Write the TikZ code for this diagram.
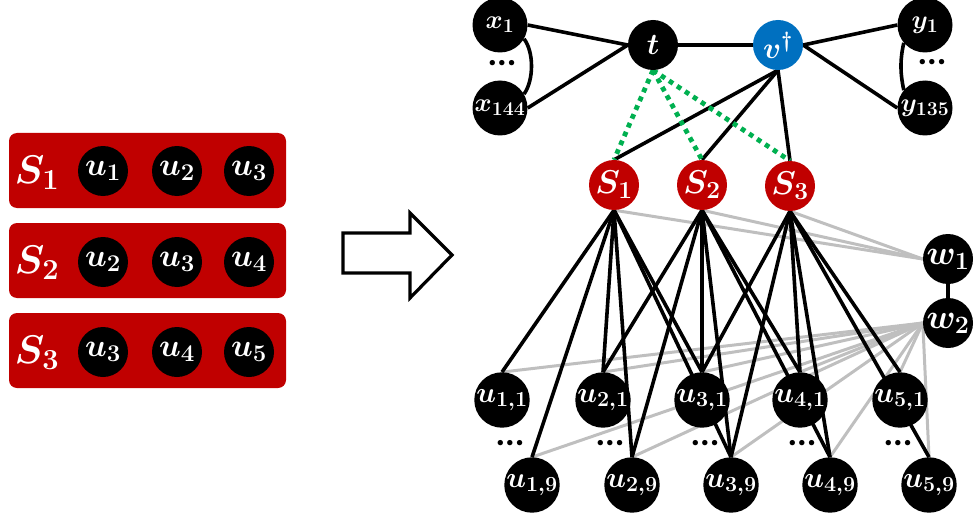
\RequirePackage{fix-cm}
\documentclass[tikz,border=0pt]{standalone}
\usepackage{fontspec}
\newfontfamily\dotfont{Carlito}
\usetikzlibrary{backgrounds}
\DeclareMathSizes{26}{26}{19.5}{14}
\DeclareMathSizes{29}{29}{21.5}{15}
\DeclareMathSizes{30}{30}{22}{16}
\DeclareMathSizes{32}{32}{24}{17}
\DeclareMathSizes{33}{33}{24.5}{17}
\DeclareMathSizes{34}{34}{25}{18}
\DeclareMathSizes{40}{40}{29}{21}
\definecolor{myred}{HTML}{C00000}
\definecolor{myblue}{HTML}{0070C0}
\definecolor{mygreen}{HTML}{00B050}
\definecolor{mygray}{HTML}{BFBFBF}
\begin{document}
\begin{tikzpicture}[x=1pt,y=-1pt,
  vtx/.style={circle, fill=black, text=white, minimum size=50pt, inner sep=0pt},
  bigvtx/.style={vtx, minimum size=55pt},
  lbl/.style={font=\fontsize{#1}{#1}\selectfont\boldmath},
  blk/.style={line width=3.6pt, black},
  gry/.style={line width=3pt, mygray},
  grn/.style={line width=4.8pt, mygreen, dash pattern=on 4.8pt off 4.8pt},
  setbox/.style={rounded corners=8pt, fill=myred, minimum width=277pt, minimum height=75pt, inner sep=0pt},
  dotlbl/.style={font=\dotfont\bfseries\fontsize{36}{36}\selectfont, inner sep=0pt}
]
\useasboundingbox (0,0) rectangle (974,516);

% ---------- left panel ----------
\node[setbox] (B1) at (147.5,170.5) {};
\node[setbox] (B2) at (147.5,260.5) {};
\node[setbox] (B3) at (147.5,350.5) {};
\node[text=white, lbl=40, inner sep=0pt] (LS1) at (37,173) {$S_1$};
\node[text=white, lbl=40, inner sep=0pt] (LS2) at (37,263) {$S_2$};
\node[text=white, lbl=40, inner sep=0pt] (LS3) at (37,353) {$S_3$};
\node[vtx, lbl=32] (L11) at (103,171) {$u_1$};
\node[vtx, lbl=32] (L12) at (177,171) {$u_2$};
\node[vtx, lbl=32] (L13) at (249,171) {$u_3$};
\node[vtx, lbl=32] (L21) at (103,262) {$u_2$};
\node[vtx, lbl=32] (L22) at (177,262) {$u_3$};
\node[vtx, lbl=32] (L23) at (249,262) {$u_4$};
\node[vtx, lbl=32] (L31) at (103,352) {$u_3$};
\node[vtx, lbl=32] (L32) at (177,352) {$u_4$};
\node[vtx, lbl=32] (L33) at (249,352) {$u_5$};

% ---------- hollow arrow ----------
\draw[line width=3.2pt, fill=white, line join=miter]
  (343,233) -- (410,233) -- (410,213) -- (452,255) -- (410,298) -- (410,273) -- (343,273) -- cycle;

% ---------- top nodes ----------
\node[bigvtx, lbl=26] (x1) at (500,25) {$x_1$};
\node[bigvtx, lbl=26] (x144) at (500,108) {$x_{144}$};
\node[vtx, lbl=30] (t) at (653,45) {$t$};
\node[vtx, lbl=30, fill=myblue] (v) at (778,45) {$v^{\dagger}$};
\node[bigvtx, lbl=26] (y1) at (925,25) {$y_1$};
\node[bigvtx, lbl=26] (y135) at (925,108) {$y_{135}$};
\node[dotlbl] (dl) at (502,63) {...};
\node[dotlbl] (dr) at (932,62) {...};

% ---------- set nodes ----------
\node[vtx, lbl=33, fill=myred] (S1) at (614,185) {$S_1$};
\node[vtx, lbl=33, fill=myred] (S2) at (702,185) {$S_2$};
\node[vtx, lbl=33, fill=myred] (S3) at (790,186) {$S_3$};

% ---------- w nodes ----------
\node[vtx, lbl=34] (w1) at (948,259) {$w_1$};
\node[vtx, lbl=34] (w2) at (948,323) {$w_2$};

% ---------- element nodes ----------
\node[vtx, lbl=29] (u11) at (502,400) {$u_{1,1}$};
\node[vtx, lbl=29] (u21) at (603,400) {$u_{2,1}$};
\node[vtx, lbl=29] (u31) at (702,400) {$u_{3,1}$};
\node[vtx, lbl=29] (u41) at (800,400) {$u_{4,1}$};
\node[vtx, lbl=29] (u51) at (900,400) {$u_{5,1}$};
\node[vtx, lbl=29] (u19) at (532,485) {$u_{1,9}$};
\node[vtx, lbl=29] (u29) at (632,485) {$u_{2,9}$};
\node[vtx, lbl=29] (u39) at (731,485) {$u_{3,9}$};
\node[vtx, lbl=29] (u49) at (830,485) {$u_{4,9}$};
\node[vtx, lbl=29] (u59) at (929,485) {$u_{5,9}$};
\node[dotlbl] (d1) at (510,443) {...};
\node[dotlbl] (d2) at (610,443) {...};
\node[dotlbl] (d3) at (705,443) {...};
\node[dotlbl] (d4) at (802,443) {...};
\node[dotlbl] (d5) at (898,443) {...};

% ---------- edges ----------
\begin{pgfonlayer}{background}
  \foreach \s in {S1,S2,S3} \draw[gry] (\s.south) -- (w1.west);
  \foreach \k in {1,...,5} {
    \draw[gry] (w2.west) -- (u\k1.north);
    \draw[gry] (w2.west) -- (u\k9.north);
  }
  \foreach \s/\a/\b/\c in {S1/1/2/3, S2/2/3/4, S3/3/4/5} {
    \foreach \k in {\a,\b,\c} {
      \draw[blk] (\s.south) -- (u\k1.north);
      \draw[blk] (\s.south) -- (u\k9.north);
    }
  }
  \draw[blk] (w1.south) -- (w2.north);
  \draw[blk] (x1.east) -- (t.west);
  \draw[blk] (x144.east) -- (t.west);
  \draw[blk] (t.east) -- (v.west);
  \draw[blk] (v.east) -- (y1.west);
  \draw[blk] (v.east) -- (y135.west);
  \draw[blk] (x1.-30) .. controls (534,52) and (534,80) .. (x144.30);
  \draw[blk] (y1.220) .. controls (900,60) and (900,72) .. (y135.140);
  \foreach \s in {S1,S2,S3} \draw[blk] (v.south) -- (\s.north);
  \foreach \s in {S1,S2,S3} \draw[grn] (t.south) -- (\s.north);
\end{pgfonlayer}
\end{tikzpicture}
\end{document}
